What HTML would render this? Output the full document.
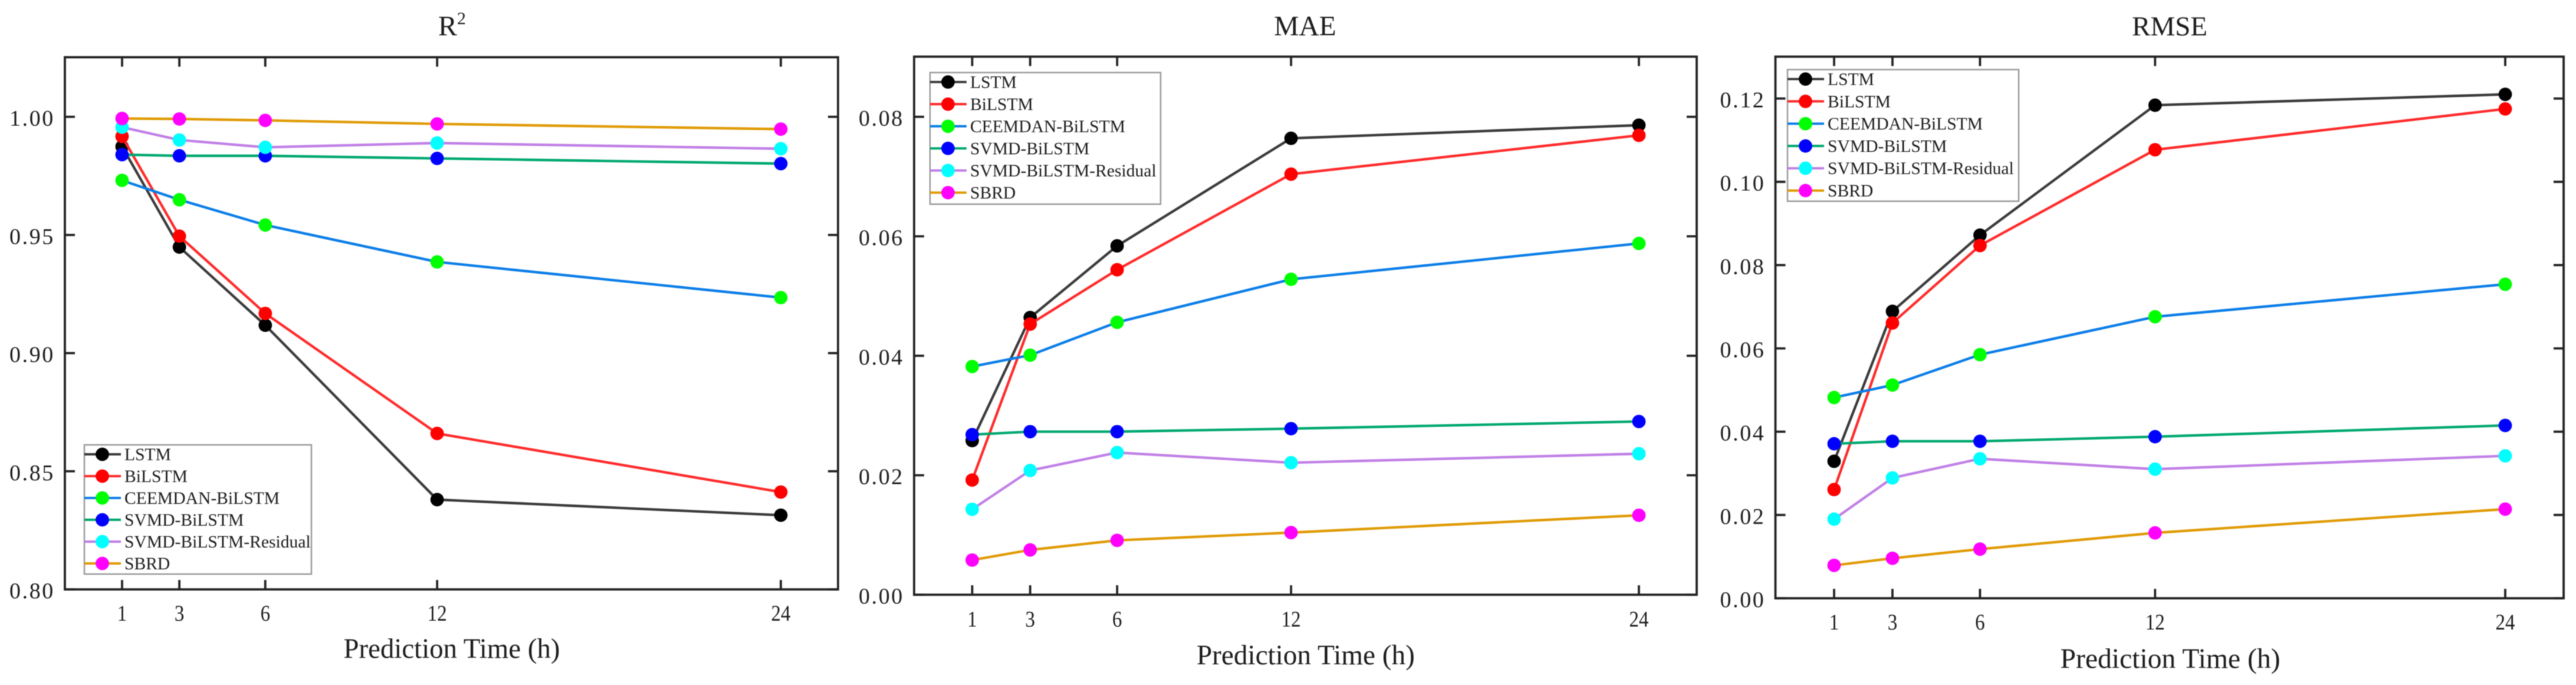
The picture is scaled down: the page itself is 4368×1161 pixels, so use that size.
<!DOCTYPE html>
<html lang="en">
<head>
<meta charset="utf-8">
<title>Prediction metrics comparison</title>
<style>
html,body{margin:0;padding:0;background:#fff;width:4368px;height:1161px;overflow:hidden}
svg{display:block;filter:blur(0.9px)}
text{font-family:"Liberation Serif","Noto Serif CJK SC",serif;fill:#1c1c1c}
</style>
</head>
<body>
<svg id="chart" xmlns="http://www.w3.org/2000/svg" width="4368" height="1161" viewBox="0 0 4368 1161">
  <rect x="0" y="0" width="4368" height="1161" fill="#fff"></rect>
  <text x="743" y="60" font-size="48">R<tspan dy="-19" font-size="30">2</tspan></text>
  <text x="2213" y="60" font-size="47.5" text-anchor="middle">MAE</text>
  <text x="3679" y="60" font-size="47" text-anchor="middle">RMSE</text>
  <text x="766" y="1115" font-size="48" text-anchor="middle" textLength="367" lengthAdjust="spacingAndGlyphs">Prediction Time (h)</text>
  <text x="2214" y="1126" font-size="48" text-anchor="middle" textLength="370" lengthAdjust="spacingAndGlyphs">Prediction Time (h)</text>
  <text x="3680" y="1132" font-size="48" text-anchor="middle" textLength="373" lengthAdjust="spacingAndGlyphs">Prediction Time (h)</text>
</svg>
<script>
const hours = [1, 3, 6, 12, 24];
const seriesNames = ['LSTM', 'BiLSTM', 'CEEMDAN-BiLSTM', 'SVMD-BiLSTM', 'SVMD-BiLSTM-Residual', 'SBRD'];

const r2Lstm = [0.9874, 0.9449, 0.9118, 0.8380, 0.8314];
const r2Bilstm = [0.9917, 0.9495, 0.9168, 0.8660, 0.8412];
const r2Ceemdan = [0.9731, 0.9649, 0.9542, 0.9386, 0.9235];
const r2Svmd = [0.9840, 0.9835, 0.9835, 0.9824, 0.9802];
const r2Residual = [0.9956, 0.9902, 0.9871, 0.9889, 0.9865];
const r2Sbrd = [0.9993, 0.9991, 0.9985, 0.9970, 0.9948];
const r2Ticks = ['0.80', '0.85', '0.90', '0.95', '1.00'];

const maeLstm = [0.0258, 0.0464, 0.0584, 0.0764, 0.0786];
const maeBilstm = [0.0192, 0.0453, 0.0544, 0.0704, 0.0769];
const maeCeemdan = [0.0382, 0.0401, 0.0456, 0.0528, 0.0588];
const maeSvmd = [0.0268, 0.0273, 0.0273, 0.0278, 0.0290];
const maeResidual = [0.0143, 0.0208, 0.0238, 0.0221, 0.0236];
const maeSbrd = [0.0058, 0.0075, 0.0091, 0.0104, 0.0133];
const maeTicks = ['0.00', '0.02', '0.04', '0.06', '0.08'];

const rmseLstm = [0.0329, 0.0689, 0.0872, 0.1184, 0.1210];
const rmseBilstm = [0.0261, 0.0661, 0.0847, 0.1077, 0.1175];
const rmseCeemdan = [0.0482, 0.0512, 0.0585, 0.0676, 0.0754];
const rmseSvmd = [0.0371, 0.0377, 0.0377, 0.0388, 0.0415];
const rmseResidual = [0.0190, 0.0289, 0.0335, 0.0310, 0.0342];
const rmseSbrd = [0.0079, 0.0096, 0.0118, 0.0157, 0.0214];
const rmseTicks = ['0.00', '0.02', '0.04', '0.06', '0.08', '0.10', '0.12'];

const lineColors = ['#3a3a3a', '#ff2a2a', '#0a7de8', '#00a870', '#c07fe6', '#e09a05'];
const markerColors = ['#000000', '#ff0000', '#00ff00', '#0000ff', '#00ffff', '#ff00ff'];

const svg = document.getElementById('chart');
const NS = 'http://www.w3.org/2000/svg';

function make(tag, parent, props) {
  const el = document.createElementNS(NS, tag);
  for (const k in props) el.setAttribute(k, props[k]);
  parent.appendChild(el);
  return el;
}

function slug(s) {
  return s.toLowerCase().replace(/[^a-z0-9]+/g, '-');
}

function drawPanel(key, values, ticks, box, legend, xTickBaseline) {
  const g = make('g', svg, {});
  
  

  const xScale = h => box.x1 + (h - hours[0]) / (hours[hours.length - 1] - hours[0]) * (box.x24 - box.x1);
  const tMin = Number(ticks[0]);
  const tMax = Number(ticks[ticks.length - 1]);
  const yScale = v => box.yLow + (v - tMin) / (tMax - tMin) * (box.yHigh - box.yLow);

  // ticks on all four sides
  hours.forEach(h => {
    const x = xScale(h);
    const tb = make('line', g, {x1: x, x2: x, y1: box.bottom, y2: box.bottom - 16, stroke: '#222', 'stroke-width': 3.8});
    
    
    const tt = make('line', g, {x1: x, x2: x, y1: box.top, y2: box.top + 16, stroke: '#222', 'stroke-width': 3.8});
    
    
    const lab = make('text', g, {x: x, y: xTickBaseline, 'font-size': 38, 'text-anchor': 'middle', textLength: String(h).length * 16.5, lengthAdjust: 'spacingAndGlyphs'});
    lab.textContent = h;
    
    
  });
  ticks.forEach(t => {
    const y = yScale(Number(t));
    const tl = make('line', g, {x1: box.left, x2: box.left + 17, y1: y, y2: y, stroke: '#222', 'stroke-width': 3.8});
    
    
    const tr = make('line', g, {x1: box.right, x2: box.right - 17, y1: y, y2: y, stroke: '#222', 'stroke-width': 3.8});
    
    
    const lab = make('text', g, {x: box.left - 94, y: y + 15, 'font-size': 38});
    lab.textContent = t;
    
    
    lab.setAttribute('word-spacing', '0');
    lab.setAttribute('letter-spacing', '2.6');
  });

  // series
  values.forEach((vals, i) => {
    const s = make('g', g, {});
    
    
    const pts = vals.map((v, j) => xScale(hours[j]) + ',' + yScale(v)).join(' ');
    const pl = make('polyline', s, {points: pts, fill: 'none', stroke: lineColors[i], 'stroke-width': 4.3, 'stroke-linejoin': 'round'});
    
    
    vals.forEach((v, j) => {
      const c = make('circle', s, {cx: xScale(hours[j]), cy: yScale(v), r: 11.4, fill: markerColors[i]});
      
      
    });
  });

  // frame
  const frame = make('rect', g, {x: box.left, y: box.top, width: box.right - box.left, height: box.bottom - box.top, fill: 'none', stroke: '#222', 'stroke-width': 3.8});
  
  

  // legend
  const lg = make('g', g, {});
  
  
  const lb = make('rect', lg, {x: legend.x, y: legend.y, width: legend.w, height: legend.h, fill: '#fff', stroke: '#999', 'stroke-width': 2.5});
  
  
  seriesNames.forEach((name, i) => {
    const ry = legend.row0 + i * legend.step;
    const e = make('g', lg, {});
    
    
    make('line', e, {x1: legend.x, x2: legend.x + 62, y1: ry, y2: ry, stroke: lineColors[i], 'stroke-width': 4});
    make('circle', e, {cx: legend.x + 30.5, cy: ry, r: 11.4, fill: markerColors[i]});
    const t = make('text', e, {x: legend.x + 68, y: ry + 10, 'font-size': 29.6});
    t.textContent = name;
  });
}

drawPanel('r2', [r2Lstm, r2Bilstm, r2Ceemdan, r2Svmd, r2Residual, r2Sbrd], r2Ticks,
  {left: 110, right: 1421, top: 97, bottom: 999, x1: 207, x24: 1324, yLow: 999, yHigh: 198},
  {x: 143, y: 754, w: 385, h: 219, row0: 770, step: 37}, 1052);

drawPanel('mae', [maeLstm, maeBilstm, maeCeemdan, maeSvmd, maeResidual, maeSbrd], maeTicks,
  {left: 1550, right: 2877, top: 96, bottom: 1008, x1: 1648.5, x24: 2779, yLow: 1008, yHigh: 198},
  {x: 1577, y: 123, w: 391, h: 223, row0: 139, step: 37.5}, 1062);

drawPanel('rmse', [rmseLstm, rmseBilstm, rmseCeemdan, rmseSvmd, rmseResidual, rmseSbrd], rmseTicks,
  {left: 3010.5, right: 4347, top: 96, bottom: 1014, x1: 3110, x24: 4248, yLow: 1014, yHigh: 167},
  {x: 3031, y: 118, w: 392, h: 223, row0: 134, step: 37.8}, 1067);
</script>
</body>
</html>
